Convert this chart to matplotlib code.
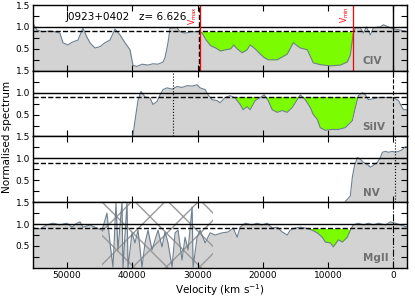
import numpy as np
import matplotlib
matplotlib.use("Agg")
import matplotlib.pyplot as plt

# velocity (km/s) and normalised flux, one set per ion
civ_v = [55220, 54610, 53690, 52620, 51850, 51080, 50620, 49860, 49090, 48320,
         47550, 46940, 46480, 45710, 44950, 44180, 43410, 42650, 41880, 41110,
         40340, 39880, 39270, 38500, 37580, 36820, 36050, 35280, 34980, 34520,
         34210, 33750, 33130, 32670, 31910, 30830, 29910, 29610, 29300, 28760,
         27990, 27230, 26460, 25690, 24920, 24460, 23930, 23160, 22400, 21940,
         21170, 20400, 19790, 19180, 17790, 16260, 15340, 14270, 13190, 12270,
         11200, 9660, 8130, 7060, 6600, 6140, 5830, 5060, 4600, 4140,
         3530, 3070, 1990, 1530, 460, -310, -1070, -2150]
civ_f = [1.09, 0.93, 0.89, 0.91, 0.89, 0.86, 0.64, 0.59, 0.66, 0.70,
         0.97, 0.77, 0.64, 0.52, 0.55, 0.64, 0.70, 0.95, 0.82, 0.64,
         0.48, 0.12, 0.10, 0.15, 0.13, 0.16, 0.15, 0.20, 0.30, 0.64,
         0.97, 0.98, 0.98, 0.89, 0.86, 0.89, 0.89, 0.89, 0.86, 0.72,
         0.57, 0.52, 0.45, 0.48, 0.50, 0.59, 0.50, 0.41, 0.48, 0.59,
         0.50, 0.38, 0.30, 0.25, 0.25, 0.38, 0.64, 0.52, 0.48, 0.18,
         0.14, 0.11, 0.13, 0.20, 0.36, 0.86, 0.98, 0.98, 0.86, 1.00,
         0.82, 0.98, 1.00, 1.05, 0.98, 0.95, 0.93, 0.89]

siiv_v = [39880, 39580, 39120, 38660, 38040, 37280, 36820, 36200, 35740, 35280,
          34670, 33900, 33130, 32370, 31600, 30830, 30070, 29610, 28840, 28380,
          27770, 27000, 26540, 25770, 25000, 24240, 23470, 23010, 22400, 21940,
          21170, 20400, 19790, 19180, 18560, 17790, 17030, 16260, 15490, 14730,
          14270, 13500, 12730, 12270, 11660, 11200, 10430, 9360, 8440, 7360,
          6290, 5830, 5370, 4760, 4300, 3840, 3070, 2300, 1230, 0,
          -770, -1530, -2150]
siiv_f = [0.03, 0.36, 0.82, 1.03, 0.90, 0.88, 0.73, 0.80, 0.95, 1.07,
          1.11, 1.08, 1.14, 1.12, 1.16, 1.15, 1.18, 1.11, 1.07, 0.95,
          0.84, 0.82, 0.77, 0.89, 0.93, 0.88, 0.73, 0.61, 0.68, 0.61,
          0.82, 0.89, 0.95, 0.82, 0.61, 0.55, 0.59, 0.55, 0.66, 0.84,
          0.95, 0.84, 0.66, 0.50, 0.39, 0.20, 0.14, 0.16, 0.16, 0.20,
          0.36, 0.66, 0.93, 1.00, 0.95, 0.84, 0.86, 0.89, 0.89, 0.89,
          0.82, 0.61, 0.61]

nv_v = [7360, 6600, 6290, 5980, 5520, 5060, 4600, 3990, 3530, 3070,
        2450, 1990, 1690, 1230, 770, 150, -310, -770, -1380, -1840, -2150]
nv_f = [0.02, 0.14, 0.57, 0.82, 1.02, 0.98, 0.91, 0.86, 0.80, 0.84,
        0.91, 1.02, 1.14, 1.16, 1.14, 1.16, 1.14, 1.16, 1.20, 1.27, 1.25]

mgii_v = [55220, 54150, 53080, 52160, 51080, 50010, 49240, 48470, 48010, 47550,
          46480, 45410, 44640, 44490, 43870, 43410, 42950, 42490, 42190, 41570,
          41420, 40800, 40650, 40040, 39580, 39120, 38500, 38040, 37580, 36970,
          36510, 36050, 35440, 34980, 34520, 33900, 33440, 32980, 32370, 31910,
          31450, 30830, 30680, 30070, 29610, 28840, 28070, 27310, 26230, 25310,
          24540, 23930, 23470, 22700, 21630, 20860, 20100, 19330, 18560, 17790,
          17030, 16260, 15800, 15030, 14270, 13500, 12430, 11660, 10890, 10430,
          9660, 9200, 8440, 7820, 7060, 6600, 6140, 5370, 4600, 3840,
          3070, 2300, 1230, 460, -310, -1070, -2150]
mgii_f = [0.91, 0.89, 0.98, 1.02, 0.98, 1.02, 0.93, 1.02, 1.05, 0.93,
          0.98, 0.91, 0.86, 0.93, 1.25, 0.57, 0.02, 1.48, 0.41, 1.50,
          0.00, 1.50, 0.00, 0.80, 0.57, 0.86, 0.02, 0.57, 0.86, 0.41,
          0.64, 0.86, 0.48, 0.82, 0.57, 0.02, 0.80, 0.86, 0.18, 0.70,
          0.41, 1.39, 0.02, 0.70, 0.86, 0.57, 0.80, 0.75, 0.80, 0.82,
          0.91, 0.70, 0.93, 1.02, 0.98, 1.02, 0.98, 1.02, 0.91, 0.93,
          0.82, 0.75, 0.86, 0.91, 0.93, 0.91, 0.86, 0.80, 0.70, 0.59,
          0.57, 0.48, 0.64, 0.59, 0.70, 0.86, 0.98, 1.02, 0.98, 1.02,
          0.98, 1.02, 0.98, 1.05, 1.02, 0.98, 0.93]

ions = ["CIV", "SiIV", "NV", "MgII"]
spectra = [(civ_v, civ_f), (siiv_v, siiv_f), (nv_v, nv_f), (mgii_v, mgii_f)]
# absorption windows (km/s) shaded green, per ion
bal_windows = [[(29600, 6150)], [(24300, 5400)], [], [(12700, 6800)]]
v_max, v_min = 29550, 6180
masked = (44600, 27700)   # sky-contaminated MgII range
name = "J0923+0402"
z = 6.626

fig, axes = plt.subplots(4, 1, sharex=True, figsize=(4.15, 2.97), dpi=100)
fig.subplots_adjust(left=0.0795, right=0.981, top=0.983, bottom=0.098, hspace=0)

for i, ax in enumerate(axes):
    v = np.array(spectra[i][0])
    f = np.array(spectra[i][1])
    ax.fill_between(v, 0, f, color="#d3d3d3", lw=0)
    ax.plot(v, f, color="#6e7f8e", lw=0.8)
    for hi, lo in bal_windows[i]:
        sel = (v <= hi) & (v >= lo)
        ax.fill_between(v, f, 0.9, where=sel & (f < 0.9), interpolate=True,
                        color="#7cfc00", lw=0)
    ax.axhline(1.0, color="black", lw=1)
    ax.axhline(0.9, color="black", lw=1, ls="--")
    ax.set_ylim(0, 1.5)
    ax.set_yticks([0.25, 0.5, 0.75, 1.0, 1.25, 1.5])
    ax.set_yticklabels(["", "0.5", "", "1.0", "", "1.5"])
    ax.tick_params(direction="in", top=True, right=True, labelsize=6.5,
                   length=4, width=0.8, pad=2)
    ax.text(4700, 0.22, ions[i], color="#707070", fontsize=7.5,
            fontweight="bold", va="center", ha="left")
    for s in ax.spines.values():
        s.set_linewidth(1)

ax = axes[0]
ax.axvline(29800, color="black", lw=1, ls="--")
ax.axvline(v_max, color="red", lw=0.9)
ax.axvline(v_min, color="red", lw=0.9)
ax.axvline(0, color="black", lw=1)
ax.text(v_max + 250, 1.47, r"V$_{\rm max}$", color="red", rotation=90,
        fontsize=5.5, ha="right", va="top")
ax.text(v_min + 250, 1.47, r"V$_{\rm min}$", color="red", rotation=90,
        fontsize=5.5, ha="right", va="top")
ax.text(0.086, 0.82, f"{name}   z= {z}", transform=ax.transAxes,
        fontsize=7.5, va="center")

axes[1].axvline(33750, color="black", lw=0.8, ls=":")
axes[1].axvline(0, color="black", lw=0.8, ls="--")
axes[2].axvline(-300, color="black", lw=0.8, ls=":")
axes[3].axvline(0, color="black", lw=0.8, ls="-.")
axes[3].fill_betweenx([0, 1.5], masked[0], masked[1], facecolor="none",
                      edgecolor="#999999", hatch="x", lw=0)

axes[-1].set_xlim(55200, -2100)
axes[-1].set_xticks([50000, 40000, 30000, 20000, 10000, 0])
axes[-1].set_xlabel(r"Velocity (km s$^{-1}$)", fontsize=7.5, labelpad=2)
fig.text(0.016, 0.54, "Normalised spectrum", rotation=90, va="center",
         ha="center", fontsize=7.5)

fig.savefig("out.png", dpi=100)
